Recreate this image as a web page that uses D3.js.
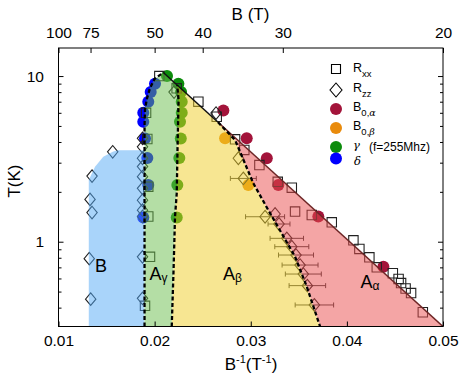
<!DOCTYPE html>
<html>
<head>
<meta charset="utf-8">
<script src="https://cdn.jsdelivr.net/npm/d3@7"></script>
<style>
  body { margin: 0; background: #fff; }
  text { font-family: "Liberation Sans", Arial, sans-serif; fill: #000; }
  .tick line { stroke: #000; }
</style>
</head>
<body>
<svg id="chart" width="463" height="378"></svg>
<script>
'use strict'

// every point is [1/B (1/T), T (K)]
const rxx = [
  [0.02049, 10.0], [0.02229, 8.43], [0.01911, 6.0], [0.02455, 7.0], [0.02646, 5.68],
  [0.01924, 4.17], [0.02837, 4.15], [0.02933, 3.58], [0.0309, 2.9], [0.03281, 2.3],
  [0.03427, 2.12], [0.01934, 2.15], [0.03461, 1.52], [0.03635, 1.45], [0.03843, 1.31],
  [0.01934, 1.42], [0.04068, 1.02], [0.0413, 0.904], [0.04234, 0.805], [0.01952, 0.81],
  [0.04311, 0.70], [0.04478, 0.645], [0.04538, 0.596], [0.04564, 0.563], [0.04611, 0.522],
  [0.04668, 0.49], [0.0479, 0.375], [0.019, 0.41]
]
const rzz = [
  [0.01564, 3.49], [0.01349, 2.49], [0.01328, 1.80], [0.01349, 1.50], [0.0132, 0.79], [0.01335, 0.45],
  [0.01874, 4.21], [0.01874, 3.74], [0.01874, 3.19], [0.01874, 2.84], [0.01874, 2.47],
  [0.01874, 2.10], [0.01874, 1.78], [0.01874, 1.55], [0.01874, 1.42], [0.01874, 0.81], [0.01874, 0.455],
  [0.02202, 8.0], [0.02639, 5.98], [0.02871, 3.19], [0.03253, 1.47]
]
// R_zz points with a horizontal error bar: [1/B, T, half width]
const rzzErr = [
  [0.02923, 2.41, 0.00135], [0.03149, 1.415, 0.00203], [0.03294, 1.279, 0.00114],
  [0.03375, 1.048, 0.00174], [0.03427, 0.933, 0.00177], [0.03471, 0.831, 0.00182],
  [0.03513, 0.723, 0.00187], [0.03547, 0.638, 0.00187], [0.03589, 0.543, 0.0019],
  [0.03662, 0.415, 0.002]
]
const b0Alpha = [[0.02715, 6.2], [0.02958, 4.21], [0.03167, 3.19], [0.03287, 2.2], [0.03703, 1.42], [0.0438, 0.707]]
const b0Beta = [[0.02733, 4.21], [0.02975, 2.2]]
const gamma = [
  [0.02129, 10.0], [0.02247, 9.0], [0.02275, 8.0], [0.02282, 7.0], [0.02282, 6.0],
  [0.02264, 5.3], [0.02272, 4.2], [0.02257, 3.2], [0.02236, 2.2], [0.0223, 1.4]
]
const delta = [
  [0.02004, 9.0], [0.01959, 8.0], [0.01934, 7.0], [0.01882, 6.0], [0.01882, 5.3],
  [0.019, 4.2], [0.01924, 3.2], [0.01934, 2.2], [0.01882, 1.4]
]

// phase boundaries
const tMin = 0.3077, tMax = 14.77
const domeLeft = [[0.01895, tMin], [0.01895, 5.0], [0.019, 6.3], [0.0192, 7.3], [0.0195, 8.4], [0.01998, 9.6], [0.0209, 10.5]]
const domeRight = [[0.02178, tMin], [0.02197, 0.675], [0.02212, 1.41], [0.0223, 1.96], [0.02238, 3.58], [0.02249, 7.17], [0.02235, 8.81]]
const alphaLine = [[0.0266, 5.26], [0.02837, 4.11], [0.03027, 2.25], [0.03183, 1.55], [0.03323, 1.12], [0.03461, 0.812], [0.03583, 0.535], [0.03721, tMin]]
const envelope = [[0.0209, 10.5], [0.0266, 5.26], [0.05, tMin]]
const phaseB = [[0.01315, tMin], [0.01315, 2.36], [0.0138, 2.83], [0.01466, 3.26], [0.0157, 3.5], [0.0162, 3.57], [0.01895, 3.57], [0.01895, tMin]]

const xTicks = [0.01, 0.02, 0.03, 0.04, 0.05]
const bTicks = [100, 75, 50, 40, 30, 20]
const tMajor = [1, 10]
const tMinor = [0.4, 0.5, 0.6, 0.7, 0.8, 0.9, 2, 3, 4, 5, 6, 7, 8, 9]

;(function (d3) {
  const svg = d3.select('#chart')
  const left = 58.5, right = 443, top = 48, bottom = 326.5

  const x = d3.scaleLinear().domain([0.01, 0.05]).range([left, right])
  const y = d3.scaleLog().domain([tMin, tMax]).range([bottom, top])
  const line = d3.line().x(d => x(d[0])).y(d => y(d[1]))

  const clip = svg.append('clipPath').attr('id', 'plot')
  clip.append('rect').attr('x', left).attr('y', top).attr('width', right - left).attr('height', bottom - top)
  const plot = svg.append('g').attr('clip-path', 'url(#plot)')

  // markers first, phase fills are laid over them half transparent
  const circles = (data, color) => plot.append('g').selectAll('circle').data(data).join('circle')
    .attr('cx', d => x(d[0])).attr('cy', d => y(d[1])).attr('r', 6).attr('fill', color)
  circles(delta, '#0000ff')
  circles(gamma, '#0c8c0c')
  circles(b0Alpha, '#a3143a')
  circles(b0Beta, '#e98b0c')

  const squarePath = 'M-4.7,-4.7H4.7V4.7H-4.7Z'
  const diamondPath = 'M0,-6.3L5.2,0L0,6.3L-5.2,0Z'
  plot.append('g').selectAll('path').data(rxx).join('path')
    .attr('d', squarePath).attr('transform', d => `translate(${x(d[0])},${y(d[1])})`)
    .attr('fill', 'none').attr('stroke', '#222').attr('stroke-width', 1.1)

  const eb = plot.append('g').attr('stroke', '#3a3a3a').attr('stroke-width', 1)
  rzzErr.forEach(d => {
    const cy = y(d[1]), x0 = x(d[0] - d[2]), x1 = x(d[0] + d[2])
    eb.append('line').attr('x1', x0).attr('x2', x1).attr('y1', cy).attr('y2', cy)
    eb.append('line').attr('x1', x0).attr('x2', x0).attr('y1', cy - 2.5).attr('y2', cy + 2.5)
    eb.append('line').attr('x1', x1).attr('x2', x1).attr('y1', cy - 2.5).attr('y2', cy + 2.5)
  })
  plot.append('g').selectAll('path').data(rzz.concat(rzzErr)).join('path')
    .attr('d', diamondPath).attr('transform', d => `translate(${x(d[0])},${y(d[1])})`)
    .attr('fill', 'none').attr('stroke', '#222').attr('stroke-width', 1.1)

  // phase regions
  const fills = plot.append('g').attr('opacity', 0.5)
  fills.append('path').attr('d', line(phaseB) + 'Z').attr('fill', '#55a9f5')
  fills.append('path').attr('d', line(domeLeft.concat(domeRight.slice().reverse())) + 'Z').attr('fill', '#6bbd4d')
  fills.append('path').attr('d', line(domeRight.concat(alphaLine)) + 'Z').attr('fill', '#efcd27')
  fills.append('path').attr('d', line(alphaLine.concat([[0.05, tMin]])) + 'Z').attr('fill', '#e94d4d')

  // boundaries
  plot.append('path').attr('d', line(envelope.slice(0, 2))).attr('fill', 'none')
    .attr('stroke', '#111').attr('stroke-width', 1.5)
  plot.append('path').attr('d', line(envelope.slice(1))).attr('fill', 'none')
    .attr('stroke', '#6e2626').attr('stroke-width', 1.5)
  ;[domeLeft, domeRight, alphaLine].forEach(b => {
    plot.append('path').attr('d', line(b)).attr('fill', 'none')
      .attr('stroke', '#000').attr('stroke-width', 2.3).attr('stroke-dasharray', '4,2.5')
  })

  // phase names
  const phaseLabel = (px, py, main, sub) => {
    const t = svg.append('text').attr('x', px).attr('y', py).style('font-size', '18px')
    t.append('tspan').text(main)
    if (sub) t.append('tspan').attr('dy', 2).style('font-size', '12px').text(sub)
  }
  phaseLabel(95, 272, 'B')
  phaseLabel(149.5, 280, 'A', 'γ')
  phaseLabel(223, 280, 'A', 'β')
  phaseLabel(360.5, 288, 'A', 'α')

  // axes, ticks pointing inward
  const style = g => {
    g.select('.domain').remove()
    g.selectAll('text').style('font-size', '15.5px').attr('fill', '#000')
  }
  svg.append('g').attr('transform', `translate(0,${bottom})`)
    .call(d3.axisBottom(x).tickValues(xTicks).tickFormat(d3.format('.2f')).tickSizeInner(-5).tickSizeOuter(0).tickPadding(8.5))
    .call(style)
  svg.append('g').attr('transform', `translate(0,${top})`)
    .call(d3.axisTop(x).tickValues(bTicks.map(b => 1 / b)).tickFormat(v => Math.round(1 / v)).tickSizeInner(-5).tickSizeOuter(0).tickPadding(10))
    .call(style)
  svg.append('g').attr('transform', `translate(${left},0)`)
    .call(d3.axisLeft(y).tickValues(tMajor).tickFormat(d3.format('d')).tickSizeInner(-5).tickSizeOuter(0).tickPadding(14.5))
    .call(style)
  svg.append('g').attr('transform', `translate(${left},0)`)
    .call(d3.axisLeft(y).tickValues(tMinor).tickFormat('').tickSizeInner(-3).tickSizeOuter(0))
    .call(style)
  svg.append('g').attr('transform', `translate(${right},0)`)
    .call(d3.axisRight(y).tickValues(tMajor).tickFormat('').tickSizeInner(-5).tickSizeOuter(0))
    .call(style)
  svg.append('g').attr('transform', `translate(${right},0)`)
    .call(d3.axisRight(y).tickValues(tMinor).tickFormat('').tickSizeInner(-3).tickSizeOuter(0))
    .call(style)

  svg.append('rect').attr('x', left).attr('y', top).attr('width', right - left).attr('height', bottom - top)
    .attr('fill', 'none').attr('stroke', '#000').attr('stroke-width', 1)

  // axis titles
  svg.append('text').attr('x', 250.5).attr('y', 20).attr('text-anchor', 'middle')
    .style('font-size', '17px').text('B (T)')
  const xt = svg.append('text').attr('x', 251).attr('y', 370).attr('text-anchor', 'middle').style('font-size', '17px')
  xt.append('tspan').text('B')
  xt.append('tspan').attr('dy', -7).style('font-size', '11px').text('-1')
  xt.append('tspan').attr('dy', 7).text('(T')
  xt.append('tspan').attr('dy', -7).style('font-size', '11px').text('-1')
  xt.append('tspan').attr('dy', 7).text(')')
  svg.append('text').attr('transform', 'translate(20,181) rotate(-90)').attr('text-anchor', 'middle')
    .style('font-size', '17px').text('T(K)')

  // legend
  const lg = svg.append('g')
  lg.append('path').attr('d', 'M-4.5,-4.5H4.5V4.5H-4.5Z').attr('transform', 'translate(336,69)')
    .attr('fill', 'none').attr('stroke', '#000').attr('stroke-width', 1.1)
  lg.append('path').attr('d', 'M0,-7L6,0L0,7L-6,0Z').attr('transform', 'translate(336,90)')
    .attr('fill', 'none').attr('stroke', '#000').attr('stroke-width', 1.1)
  ;[[109, '#a3143a'], [128, '#e98b0c'], [147, '#0c8c0c'], [158.5, '#0000ff']].forEach(d => {
    lg.append('circle').attr('cx', 336).attr('cy', d[0]).attr('r', 6).attr('fill', d[1])
  })
  const entry = (py, main, sub, greek) => {
    const t = lg.append('text').attr('x', 353).attr('y', py).style('font-size', '12.5px')
    t.append('tspan').text(main)
    const s = t.append('tspan').attr('dy', 5).style('font-size', '9.5px').text(sub)
    if (greek) s.append('tspan').style('font-family', '"DejaVu Serif", serif').style('font-style', 'italic').text(greek)
  }
  entry(72, 'R', 'xx')
  entry(92, 'R', 'zz')
  entry(111, 'B', '0,', 'α')
  entry(130, 'B', '0,', 'β')
  lg.append('text').attr('x', 353).attr('y', 149).style('font-size', '11.5px')
    .style('font-family', '"DejaVu Serif", serif').style('font-style', 'italic').text('γ')
  lg.append('text').attr('x', 369).attr('y', 151).style('font-size', '12px').text('(f=255Mhz)')
  lg.append('text').attr('x', 354).attr('y', 164.5).style('font-size', '11.5px')
    .style('font-family', '"DejaVu Serif", serif').style('font-style', 'italic').text('δ')
})(d3)
</script>
</body>
</html>
